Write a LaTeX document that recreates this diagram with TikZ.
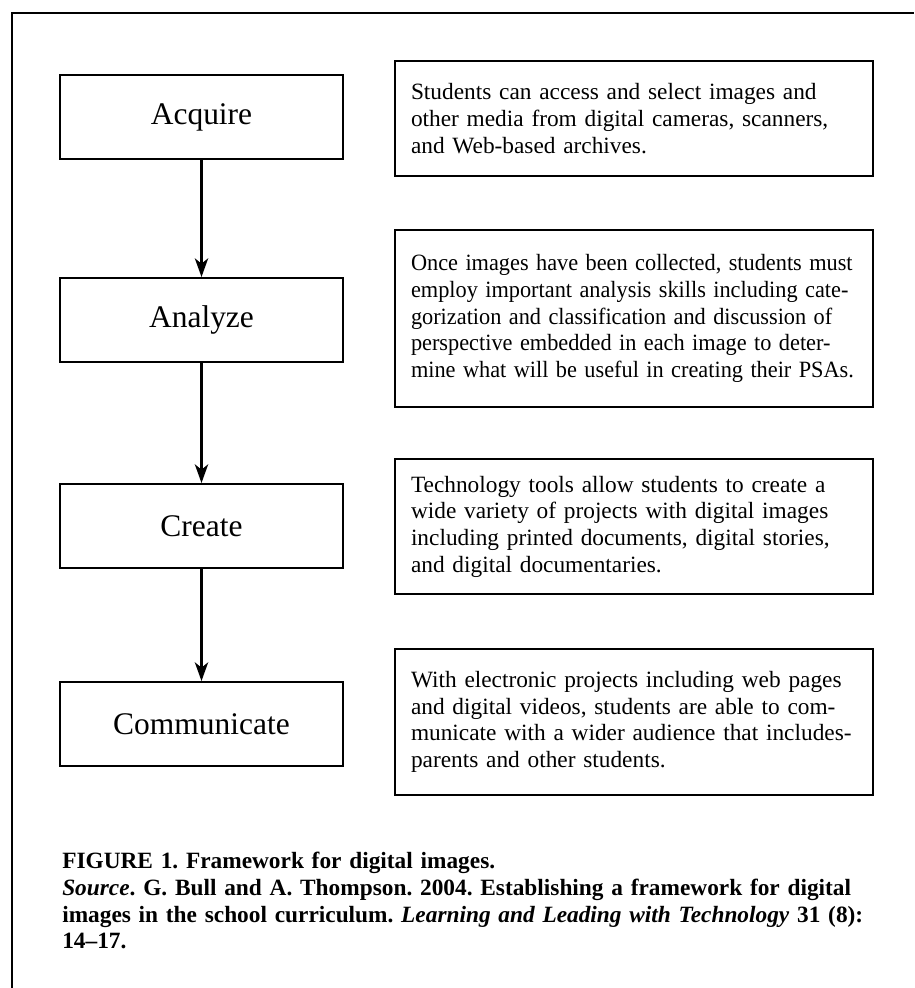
\documentclass[tikz,border=0pt]{standalone}
\usepackage{graphicx}
\usepackage{fontspec}
\setmainfont{Liberation Serif}
\usetikzlibrary{arrows.meta}
\frenchspacing
\newcommand{\sqzline}[1]{\scalebox{0.956}[1]{#1}}
\begin{document}
\begin{tikzpicture}[x=0.75pt,y=-0.75pt,
  stagebox/.style={draw,line width=1.5pt,minimum width=212.25pt,minimum height=63pt,
    inner sep=0pt,font=\fontsize{23.6}{28}\selectfont},
  descbox/.style={draw,line width=1.8pt,text width=334.5pt,inner xsep=12pt,inner ysep=2pt,
    align=left,font=\fontsize{17.5}{20}\selectfont},
  arr/.style={line width=1.6pt,-{Stealth[length=14pt,width=10pt,inset=4pt]}},
  framel/.style={line width=1.6pt},
  captionnode/.style={anchor=north west,inner sep=0pt,text width=640pt,align=left,
    font=\fontsize{17.5}{20}\selectfont\bfseries}
]
\useasboundingbox (0,0) rectangle (914,988);
% frame
\coordinate (fbl) at (11.7,988);
\coordinate (ftl) at (11.7,12.7);
\coordinate (ftr) at (914,12.7);
\draw[framel] (fbl) -- (ftl) -- (ftr);

% stage boxes
\node[stagebox] (acq) at (201.5,117) {Acquire};
\node[stagebox] (ana) at (201.5,320) {Analyze};
\node[stagebox] (cre) at (201.5,526) {Create};
\node[stagebox] (com) at (201.5,724) {Communicate};

% arrows
\draw[arr] (acq.south) -- (ana.north);
\draw[arr] (ana.south) -- (cre.north);
\draw[arr] (cre.south) -- (com.north);

% description boxes
\node[descbox,minimum height=86.25pt] (d1) at (634,118.5) {\mbox{Students can access and select images and}\\
\mbox{other media from digital cameras, scanners,}\\
\mbox{and Web-based archives.}};
\node[descbox,minimum height=132.75pt] (d2) at (634,318.5) {\sqzline{Once images have been collected, students must}\\
\sqzline{employ important analysis skills including cate-}\\
\sqzline{gorization and classification and discussion of}\\
\sqzline{perspective embedded in each image to deter-}\\
\sqzline{mine what will be useful in creating their PSAs.}};
\node[descbox,minimum height=101.25pt] (d3) at (634,526.5) {\mbox{Technology tools allow students to create a}\\
\mbox{wide variety of projects with digital images}\\
\mbox{including printed documents, digital stories,}\\
\mbox{and digital documentaries.}};
\node[descbox,minimum height=109.5pt] (d4) at (634,722) {\mbox{With electronic projects including web pages}\\
\mbox{and digital videos, students are able to com-}\\
\mbox{municate with a wider audience that includes-}\\
\mbox{parents and other students.}};

% caption
\node[captionnode] (cap) at (62,852) {\mbox{FIGURE 1. Framework for digital images.}\\
\mbox{\textit{Source}. G. Bull and A. Thompson. 2004. Establishing a framework for digital}\\
\mbox{images in the school curriculum. \textit{Learning and Leading with Technology} 31 (8):}\\
\mbox{14–17.}};
\end{tikzpicture}
\end{document}
